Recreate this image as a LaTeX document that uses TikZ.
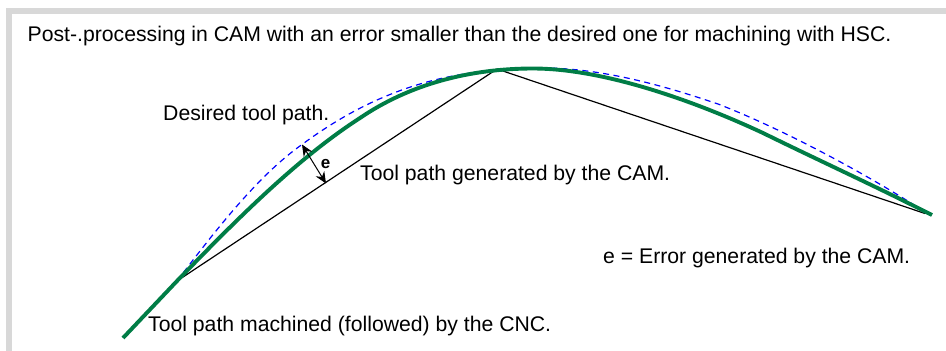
\documentclass[tikz,border=0pt]{standalone}
\usepackage{fontspec}
\setmainfont{Liberation Sans}
\usepackage{xcolor}
\usetikzlibrary{arrows.meta}
\definecolor{framegray}{RGB}{216,216,216}
\definecolor{pathgreen}{RGB}{0,125,70}

\begin{document}
\begin{tikzpicture}[
    x=1pt, y=-1pt,
    lbl/.style={anchor=base west, inner sep=0pt, font=\fontsize{21.2pt}{24pt}\selectfont},
    errlbl/.style={anchor=base, inner sep=0pt, font=\fontsize{17pt}{20pt}\selectfont\bfseries},
    machined/.style={draw=pathgreen, line width=3.9pt},
    desired/.style={draw=blue, line width=1.2pt, dash pattern=on 6pt off 4.5pt},
    chord/.style={draw=black, line width=1.2pt},
    >={Stealth[length=11.5pt, width=10pt]}
]
    \useasboundingbox (0,0) rectangle (946,351);

    % Frame
    \fill[framegray] (6,8) rectangle (946,351);
    \fill[white] (12,14) rectangle (946,351);

    % Points on the path
    \coordinate (p1) at (177,281);
    \coordinate (p2) at (497,69);
    \coordinate (p3) at (925,213.5);
    \coordinate (e1) at (302,144.5);
    \coordinate (e2) at (326,183.5);

    % Generated by the CAM
    \draw[chord] (p1) -- (p2) -- (p3);

    % Desired
    \draw[desired] (p1) .. controls (215,231) and (258,175.5) .. (e1)
        .. controls (342,115) and (380,96) .. (420,84)
        .. controls (462,71.5) and (505,68) .. (547,68)
        .. controls (605,69) and (665,86) .. (718,104)
        .. controls (785,130) and (870,176) .. (925,212);

    % Followed by the CNC
    \draw[machined] (123,338) -- (p1) .. controls (238,218) and (298,158) .. (360,118)
        .. controls (410,84) and (470,68.5) .. (533,68.5)
        .. controls (600,68.5) and (688,98) .. (763,133)
        .. controls (820,161) and (875,186) .. (932,215);

    % Error
    \draw[<->, line width=1pt] (e1) -- (e2);
    \node[errlbl] (errmark) at (325.5,168) {e};

    % Labels
    \node[lbl] (title) at (27.5,41) {Post-.processing in CAM with an error smaller than the desired one for machining with HSC.};
    \node[lbl] (desiredlbl) at (163,120) {Desired tool path.};
    \node[lbl] (camlbl) at (360,180) {Tool path generated by the CAM.};
    \node[lbl] (cnclbl) at (148,331) {Tool path machined (followed) by the CNC.};
    \node[lbl] (errlbl) at (603,263) {e = Error generated by the CAM.};
\end{tikzpicture}
\end{document}
